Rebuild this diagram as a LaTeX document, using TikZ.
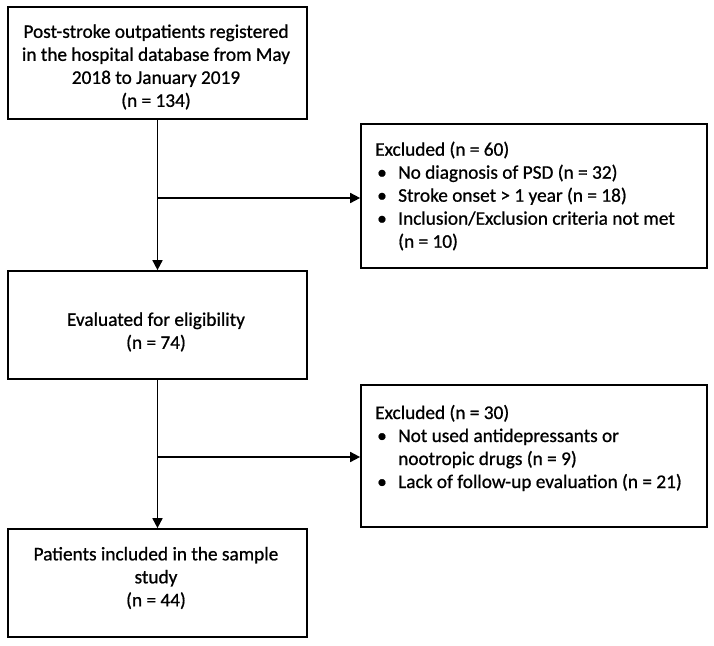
\documentclass[tikz,border=0pt]{standalone}
\usepackage{fontspec}
\setmainfont{Carlito}[FakeBold=0.8]
\usetikzlibrary{arrows.meta,calc}
\newcommand{\bitem}[1]{\makebox[23pt][l]{\hspace{2pt}\textbullet}#1}
\begin{document}
\begin{tikzpicture}[x=1pt,y=-1pt,
 box/.style={draw, line width=1.7pt, inner sep=0pt, fill=white},
 txt/.style={font=\fontsize{19.3}{23}\selectfont, inner sep=0pt, align=center},
 ltxt/.style={font=\fontsize{19.3}{23}\selectfont, inner sep=0pt, align=left},
 arr/.style={line width=1.7pt, -{Triangle[length=10pt,width=10pt]}}]
\useasboundingbox (0,0) rectangle (714,645);
% main boxes
\node[box, minimum width=299pt, minimum height=112pt] (b1) at (157.5,63) {};
\node[box, minimum width=299pt, minimum height=108pt] (b2) at (157.5,325) {};
\node[box, minimum width=299pt, minimum height=108pt] (b3) at (157.5,583) {};
% exclusion boxes
\node[box, minimum width=346pt, minimum height=144pt] (e1) at (534,196) {};
\node[box, minimum width=346pt, minimum height=142pt] (e2) at (534,456) {};
% texts
\node[txt] (t1) at (156,67) {Post-stroke outpatients registered\\in the hospital database from May\\2018 to January 2019\\(n = 134)};
\node[txt] (t2) at (156,332) {Evaluated for eligibility\\(n = 74)};
\node[txt] (t3) at (156,578) {Patients included in the sample\\study\\(n = 44)};
\node[ltxt, anchor=west] (t4) at (375,196) {Excluded (n = 60)\\\bitem{No diagnosis of PSD (n = 32)}\\\bitem{Stroke onset > 1 year (n = 18)}\\\bitem{Inclusion/Exclusion criteria not met}\\\hspace*{23pt}(n = 10)};
\node[ltxt, anchor=west] (t5) at (375,448) {Excluded (n = 30)\\\bitem{Not used antidepressants or}\\\hspace*{23pt}nootropic drugs (n = 9)\\\bitem{Lack of follow-up evaluation (n = 21)}};
% connectors
\coordinate (j1) at (157,198);
\coordinate (j2) at (157,457);
\draw[arr] (b1.south) -- (b2.north);
\draw[arr] (j1) -- (j1 -| e1.west);
\draw[arr] (b2.south) -- (b3.north);
\draw[arr] (j2) -- (j2 -| e2.west);
\end{tikzpicture}
\end{document}
